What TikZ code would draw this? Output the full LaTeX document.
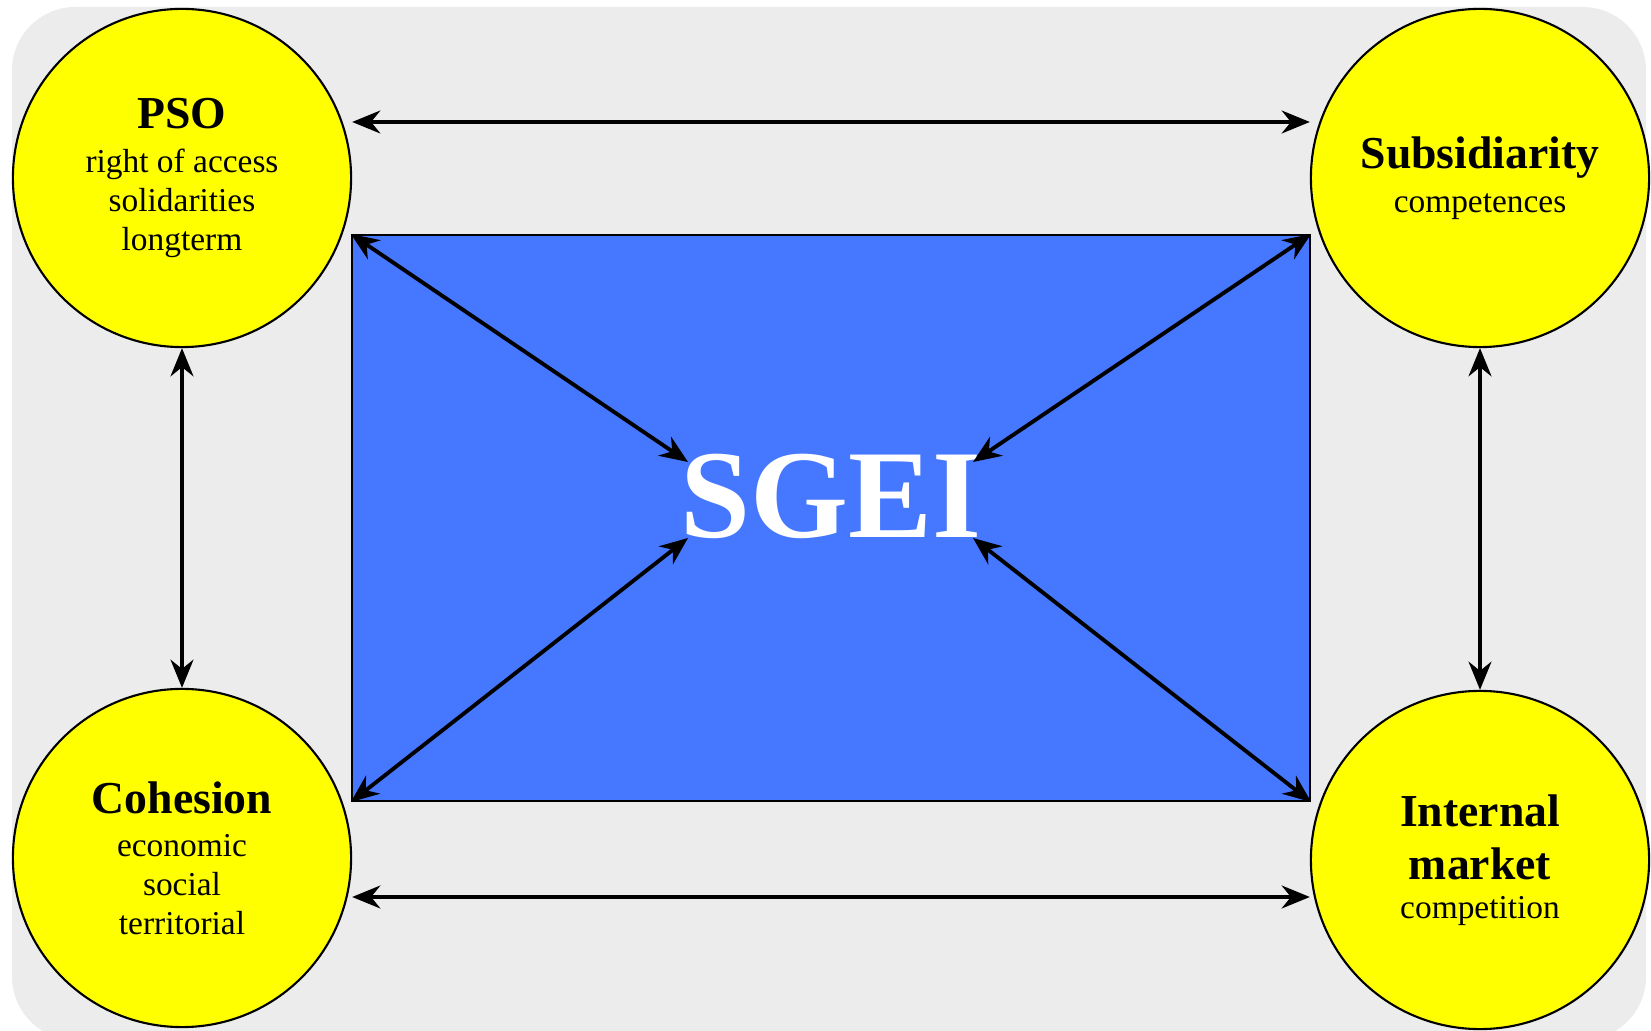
\documentclass[tikz,border=0pt]{standalone}
\usepackage{fontspec}
\setmainfont{Liberation Serif}
\usepackage{tikz}
\usetikzlibrary{arrows.meta, positioning, calc}
\definecolor{sgeiblue}{RGB}{70,120,255}
\definecolor{panelgray}{RGB}{236,236,236}
\definecolor{pillaryellow}{RGB}{255,255,0}
\newcommand{\ttlfont}{\fontsize{13}{15}\selectfont\bfseries}

\begin{document}
\begin{tikzpicture}[
  x=0.01cm, y=-0.01cm,
  pillar/.style={circle, draw=black, line width=0.6pt, fill=pillaryellow,
    minimum size=3.38cm, inner sep=0pt, align=center,
    font=\fontsize{9.5}{11}\selectfont},
  core/.style={rectangle, draw=black, line width=0.5pt, fill=sgeiblue,
    minimum width=9.58cm, minimum height=5.66cm, inner sep=0pt},
  dbl/.style={{Stealth[length=8pt, width=6.5pt, inset=2.6pt]}-{Stealth[length=8pt, width=6.5pt, inset=2.6pt]},
    line width=1.1pt}
]
  \useasboundingbox (0,0) rectangle (1651,1031);
  \fill[panelgray, rounded corners=18pt] (12,7) rectangle (1646,1040);

  % centre box
  \node[core] (sgei) at (831,518) {};
  \node[text=white, font=\fontsize{35.8}{40}\selectfont\bfseries, inner sep=0pt]
    (sgeiT) at (831,496) {SGEI};

  % the four pillars
  \node[pillar] (pso)  at (182,178) {{\ttlfont PSO}\\[1.5pt] right of access\\ solidarities\\ longterm};
  \node[pillar] (subs) at (1480,178) {{\ttlfont Subsidiarity}\\[1.5pt] competences};
  \node[pillar] (coh)  at (182,858) {{\ttlfont Cohesion}\\[1.5pt] economic\\ social\\ territorial};
  \node[pillar] (imkt) at (1480,860) {{\ttlfont Internal}\\[4pt] {\ttlfont market}\\ competition};

  % arrow ends round the label
  \coordinate (tl) at (688,462);
  \coordinate (tr) at (973,462);
  \coordinate (bl) at (688,538);
  \coordinate (br) at (973,538);

  \draw[dbl] (sgei.north west) -- (tl);
  \draw[dbl] (sgei.north east) -- (tr);
  \draw[dbl] (sgei.south west) -- (bl);
  \draw[dbl] (sgei.south east) -- (br);

  \draw[dbl] ($(pso.east)+(0,-56)$) -- ($(subs.west)+(0,-56)$);
  \draw[dbl] ($(coh.east)+(0,39)$) -- ($(imkt.west)+(0,37)$);
  \draw[dbl] (pso.south) -- (coh.north);
  \draw[dbl] (subs.south) -- (imkt.north);
\end{tikzpicture}
\end{document}
